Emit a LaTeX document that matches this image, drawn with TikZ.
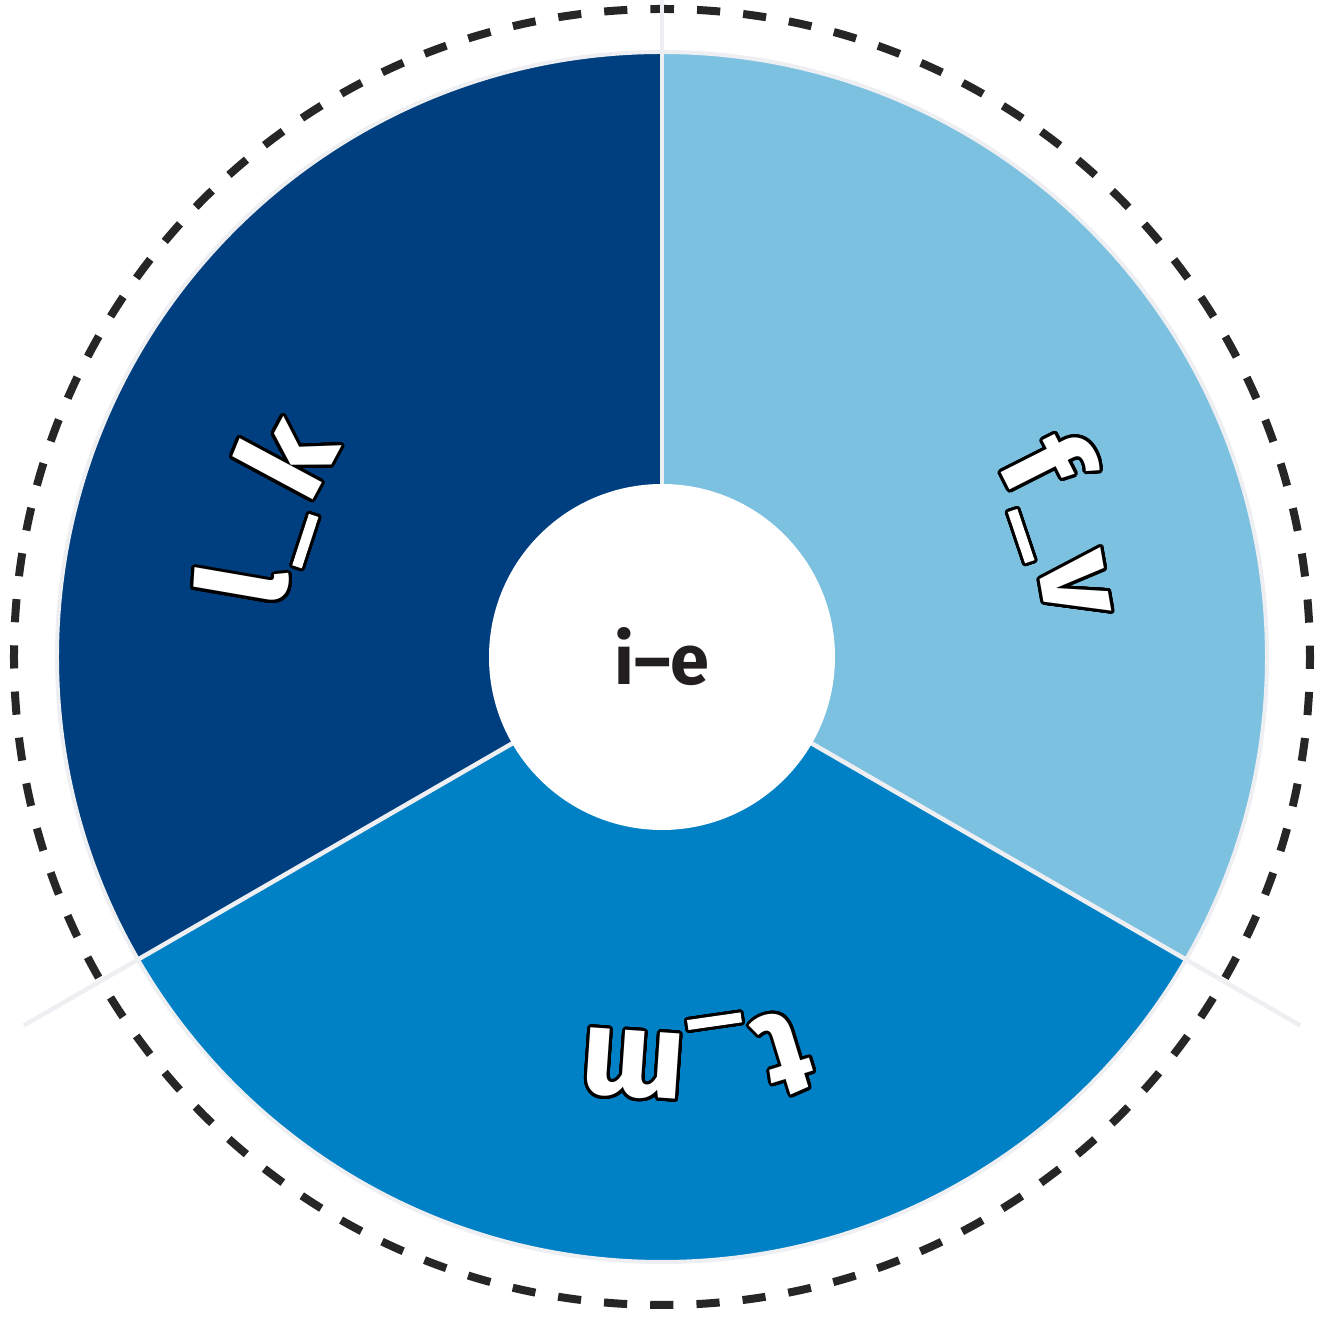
\documentclass[tikz,border=0pt]{standalone}
\usepackage{fontspec}
\setmainfont{Fira Sans}
\usepackage{contour}
\contourlength{0.85pt}
\contournumber{32}
\definecolor{darkblue}{RGB}{0,63,127}
\definecolor{midblue}{RGB}{0,129,198}
\definecolor{lightblue}{RGB}{125,193,225}
\definecolor{rimgray}{RGB}{238,239,242}
\definecolor{inkgray}{RGB}{35,31,32}
\newcommand{\lowbar}{\rule[-0.12cm]{0.54cm}{0.1cm}}
\tikzset{
  rimline/.style={rimgray, line width=0.045cm},
  letter/.style={text=white, anchor=base, inner sep=0pt, font=\bfseries\fontsize{35}{38}\selectfont}
}

\begin{document}
\begin{tikzpicture}[scale=1.0, every node/.style={font=\bfseries}]
\useasboundingbox (-6.62,-6.60) rectangle (6.63,6.57);
\coordinate (c) at (0,0);

\fill[lightblue] (c) -- (90:6.05) arc (90:-30:6.05) -- cycle;
\fill[midblue] (c) -- (-30:6.05) arc (-30:-150:6.05) -- cycle;
\fill[darkblue] (c) -- (210:6.05) arc (210:90:6.05) -- cycle;
\draw[rimline, line width=0.04cm] (c) circle (6.05);

\draw[black!85, line width=0.08cm, dash pattern=on 0.232cm off 0.2307cm, dash phase=0.116cm]
    (90:6.48) arc (90:450:6.48);

\foreach \a in {90, 210, 330}
    \draw[rimline] (c) -- (\a:7.37);

\fill[white] (c) circle (1.73);
\node[text=inkgray, font=\bfseries\fontsize{20}{24}\selectfont] (ie) at (c) {i–e};

% letters along the ring
\foreach \ch/\ang [count=\i] in {f/26.8, \lowbar/18.6, v/9.9}
    \node[letter, rotate=\ang-90] (fv\i) at (\ang:3.86) {\contour{black}{\ch}};
\foreach \ch/\ang [count=\i] in {l/170.2, \lowbar/162, k/151.8}
    \node[letter, rotate=\ang-90] (lk\i) at (\ang:3.82) {\contour{black}{\ch}};
\foreach \ch/\ang [count=\i] in {t/-72.9, \lowbar/-81.8, m/-94.0}
    \node[letter, rotate=\ang-90] (tm\i) at (\ang:3.75) {\contour{black}{\ch}};
\end{tikzpicture}
\end{document}
